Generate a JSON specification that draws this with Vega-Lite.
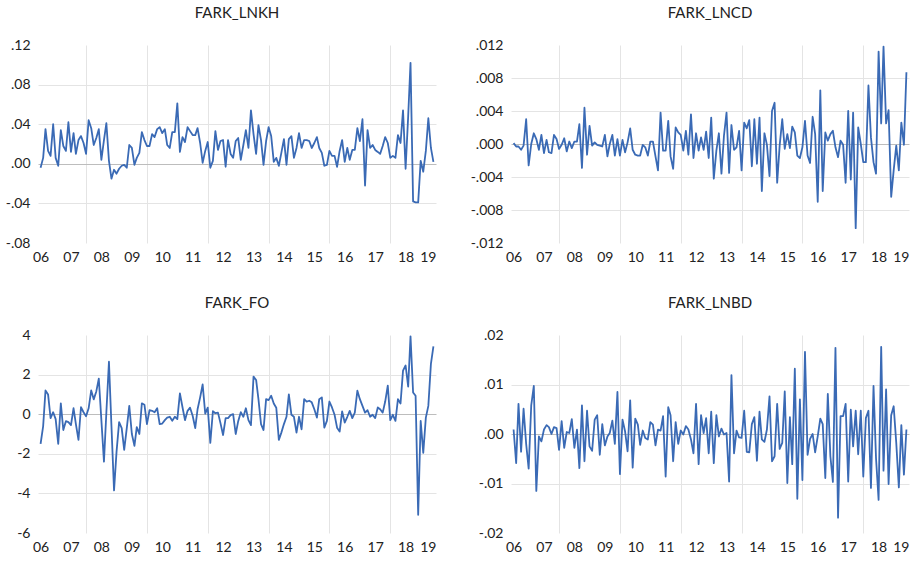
{
  "$schema": "https://vega.github.io/schema/vega-lite/v6.json",
  "padding": {"left": 5, "top": 6, "right": 5, "bottom": 5},
  "background": "white",
  "config": {
    "view": {"stroke": null},
    "axis": {"ticks": false, "domain": false, "title": null, "labelFont": "Lato", "labelFontSize": 14, "labelColor": "#222222", "gridColor": "#E4E4E4", "gridWidth": 1},
    "title": {"font": "Lato", "fontSize": 15, "fontWeight": "normal", "color": "#222222", "frame": "group", "anchor": "middle", "baseline": "alphabetic", "offset": 17},
    "line": {"color": "#3A6AB5", "strokeWidth": 1.8, "strokeJoin": "round"}
  },
  "data": {"values": [
    {"d":"2006-01-01","kh":-0.004,"cd":0.0001,"fo":-1.5,"bd":0.0009},
    {"d":"2006-02-01","kh":0.006,"cd":-0.0003,"fo":-0.6,"bd":-0.0059},
    {"d":"2006-03-01","kh":0.035,"cd":-0.0003,"fo":1.2,"bd":0.0061},
    {"d":"2006-04-01","kh":0.013,"cd":-0.0007,"fo":1.0,"bd":-0.0036},
    {"d":"2006-05-01","kh":0.008,"cd":-0.0002,"fo":-0.2,"bd":0.0051},
    {"d":"2006-06-01","kh":0.040,"cd":0.003,"fo":0.1,"bd":-0.002},
    {"d":"2006-07-01","kh":0.006,"cd":-0.0026,"fo":-0.25,"bd":-0.007},
    {"d":"2006-08-01","kh":-0.002,"cd":0.0,"fo":-1.5,"bd":0.0058},
    {"d":"2006-09-01","kh":0.034,"cd":0.0013,"fo":0.55,"bd":0.0097},
    {"d":"2006-10-01","kh":0.018,"cd":0.0006,"fo":-0.8,"bd":-0.0115},
    {"d":"2006-11-01","kh":0.013,"cd":-0.0007,"fo":-0.35,"bd":-0.0005},
    {"d":"2006-12-01","kh":0.042,"cd":0.0011,"fo":-0.4,"bd":-0.0015},
    {"d":"2007-01-01","kh":0.012,"cd":-0.0011,"fo":-0.55,"bd":0.0009},
    {"d":"2007-02-01","kh":0.031,"cd":0.0005,"fo":0.3,"bd":0.0018},
    {"d":"2007-03-01","kh":0.010,"cd":-0.001,"fo":-0.5,"bd":0.0014},
    {"d":"2007-04-01","kh":0.024,"cd":-0.0011,"fo":-1.3,"bd":0.0},
    {"d":"2007-05-01","kh":0.028,"cd":0.0011,"fo":0.35,"bd":0.0014},
    {"d":"2007-06-01","kh":0.021,"cd":0.0006,"fo":0.1,"bd":0.0012},
    {"d":"2007-07-01","kh":0.010,"cd":-0.0006,"fo":-0.1,"bd":-0.0032},
    {"d":"2007-08-01","kh":0.044,"cd":-0.0001,"fo":0.3,"bd":0.0026},
    {"d":"2007-09-01","kh":0.036,"cd":0.0007,"fo":1.2,"bd":-0.0028},
    {"d":"2007-10-01","kh":0.019,"cd":-0.0009,"fo":0.75,"bd":0.0004},
    {"d":"2007-11-01","kh":0.026,"cd":0.0003,"fo":1.15,"bd":0.0002},
    {"d":"2007-12-01","kh":0.035,"cd":-0.0005,"fo":1.8,"bd":0.003},
    {"d":"2008-01-01","kh":0.004,"cd":0.0003,"fo":-0.3,"bd":-0.0028},
    {"d":"2008-02-01","kh":0.024,"cd":0.0003,"fo":-2.4,"bd":0.0009},
    {"d":"2008-03-01","kh":0.041,"cd":0.0024,"fo":0.1,"bd":-0.0069},
    {"d":"2008-04-01","kh":0.003,"cd":-0.0029,"fo":2.65,"bd":0.0058},
    {"d":"2008-05-01","kh":-0.015,"cd":0.0044,"fo":-0.6,"bd":-0.0055},
    {"d":"2008-06-01","kh":-0.006,"cd":-0.0013,"fo":-3.85,"bd":0.0047},
    {"d":"2008-07-01","kh":-0.010,"cd":0.0022,"fo":-1.9,"bd":-0.0025},
    {"d":"2008-08-01","kh":-0.005,"cd":-0.0002,"fo":-0.4,"bd":-0.0034},
    {"d":"2008-09-01","kh":-0.002,"cd":0.0002,"fo":-0.7,"bd":0.0029},
    {"d":"2008-10-01","kh":-0.001,"cd":-0.0001,"fo":-1.8,"bd":0.0038},
    {"d":"2008-11-01","kh":-0.004,"cd":-0.0002,"fo":-0.7,"bd":-0.0042},
    {"d":"2008-12-01","kh":0.019,"cd":-0.0003,"fo":0.42,"bd":0.002},
    {"d":"2009-01-01","kh":0.016,"cd":0.0011,"fo":-1.0,"bd":-0.0023},
    {"d":"2009-02-01","kh":-0.001,"cd":-0.0015,"fo":-1.6,"bd":-0.0005},
    {"d":"2009-03-01","kh":0.006,"cd":0.0,"fo":-0.65,"bd":0.0002},
    {"d":"2009-04-01","kh":0.011,"cd":0.0011,"fo":-1.0,"bd":0.0027},
    {"d":"2009-05-01","kh":0.032,"cd":-0.0014,"fo":0.55,"bd":-0.002},
    {"d":"2009-06-01","kh":0.024,"cd":0.0006,"fo":0.48,"bd":0.0085},
    {"d":"2009-07-01","kh":0.018,"cd":-0.0014,"fo":-0.5,"bd":-0.0081},
    {"d":"2009-08-01","kh":0.018,"cd":0.0005,"fo":0.2,"bd":0.0029},
    {"d":"2009-09-01","kh":0.030,"cd":-0.001,"fo":0.17,"bd":0.0005},
    {"d":"2009-10-01","kh":0.027,"cd":0.0002,"fo":0.1,"bd":-0.0035},
    {"d":"2009-11-01","kh":0.035,"cd":0.0019,"fo":0.3,"bd":0.0068},
    {"d":"2009-12-01","kh":0.037,"cd":-0.0007,"fo":-0.5,"bd":-0.0068},
    {"d":"2010-01-01","kh":0.031,"cd":-0.0013,"fo":-0.47,"bd":0.0031},
    {"d":"2010-02-01","kh":0.035,"cd":-0.0014,"fo":-0.3,"bd":0.0019},
    {"d":"2010-03-01","kh":0.019,"cd":-0.0014,"fo":-0.17,"bd":-0.0022},
    {"d":"2010-04-01","kh":0.016,"cd":-0.0001,"fo":-0.13,"bd":0.0007},
    {"d":"2010-05-01","kh":0.032,"cd":-0.0004,"fo":-0.33,"bd":-0.0008},
    {"d":"2010-06-01","kh":0.032,"cd":-0.0014,"fo":-0.13,"bd":-0.0011},
    {"d":"2010-07-01","kh":0.061,"cd":0.0003,"fo":-0.25,"bd":0.0024},
    {"d":"2010-08-01","kh":0.012,"cd":0.0003,"fo":1.05,"bd":0.0019},
    {"d":"2010-09-01","kh":0.027,"cd":-0.0015,"fo":0.35,"bd":-0.0023},
    {"d":"2010-10-01","kh":0.022,"cd":-0.0032,"fo":-0.3,"bd":0.0009},
    {"d":"2010-11-01","kh":0.037,"cd":0.0038,"fo":0.17,"bd":0.0007},
    {"d":"2010-12-01","kh":0.033,"cd":-0.0008,"fo":0.33,"bd":0.0036},
    {"d":"2011-01-01","kh":0.029,"cd":-0.0008,"fo":-0.08,"bd":-0.0086},
    {"d":"2011-02-01","kh":0.029,"cd":0.0028,"fo":-0.7,"bd":0.0054},
    {"d":"2011-03-01","kh":0.036,"cd":-0.0015,"fo":0.25,"bd":0.0038},
    {"d":"2011-04-01","kh":0.021,"cd":-0.003,"fo":0.85,"bd":-0.0055},
    {"d":"2011-05-01","kh":0.001,"cd":0.002,"fo":1.5,"bd":0.0024},
    {"d":"2011-06-01","kh":0.013,"cd":0.0014,"fo":0.03,"bd":-0.002},
    {"d":"2011-07-01","kh":0.022,"cd":0.0011,"fo":0.33,"bd":0.0007},
    {"d":"2011-08-01","kh":-0.004,"cd":-0.0008,"fo":-1.45,"bd":-0.0001},
    {"d":"2011-09-01","kh":0.003,"cd":0.0016,"fo":0.15,"bd":0.0016},
    {"d":"2011-10-01","kh":0.033,"cd":-0.0013,"fo":0.05,"bd":0.0009},
    {"d":"2011-11-01","kh":0.014,"cd":0.0036,"fo":0.08,"bd":-0.0011},
    {"d":"2011-12-01","kh":0.023,"cd":-0.0017,"fo":-0.45,"bd":-0.0039},
    {"d":"2012-01-01","kh":0.024,"cd":0.0013,"fo":-1.05,"bd":0.0061},
    {"d":"2012-02-01","kh":-0.003,"cd":-0.0008,"fo":-0.2,"bd":-0.0061},
    {"d":"2012-03-01","kh":0.024,"cd":0.0008,"fo":-0.2,"bd":0.0038},
    {"d":"2012-04-01","kh":0.010,"cd":-0.0007,"fo":-0.05,"bd":0.0002},
    {"d":"2012-05-01","kh":0.006,"cd":0.0015,"fo":0.0,"bd":0.0032},
    {"d":"2012-06-01","kh":0.023,"cd":-0.0017,"fo":-1.0,"bd":-0.0039},
    {"d":"2012-07-01","kh":0.026,"cd":0.0032,"fo":-0.35,"bd":0.0045},
    {"d":"2012-08-01","kh":0.004,"cd":-0.0042,"fo":0.1,"bd":-0.0059},
    {"d":"2012-09-01","kh":0.019,"cd":-0.0008,"fo":-0.13,"bd":0.0038},
    {"d":"2012-10-01","kh":0.034,"cd":0.0013,"fo":0.3,"bd":-0.0005},
    {"d":"2012-11-01","kh":0.016,"cd":-0.0036,"fo":-0.3,"bd":0.0011},
    {"d":"2012-12-01","kh":0.054,"cd":0.001,"fo":-0.55,"bd":-0.0001},
    {"d":"2013-01-01","kh":0.030,"cd":0.0038,"fo":1.9,"bd":0.0002},
    {"d":"2013-02-01","kh":0.010,"cd":-0.0035,"fo":1.73,"bd":-0.0096},
    {"d":"2013-03-01","kh":0.039,"cd":0.0023,"fo":0.76,"bd":0.0119},
    {"d":"2013-04-01","kh":0.024,"cd":-0.0007,"fo":-0.5,"bd":-0.0039},
    {"d":"2013-05-01","kh":-0.001,"cd":-0.0004,"fo":-0.8,"bd":0.0007},
    {"d":"2013-06-01","kh":0.023,"cd":0.0016,"fo":0.76,"bd":-0.0007},
    {"d":"2013-07-01","kh":0.037,"cd":-0.0032,"fo":0.71,"bd":-0.0008},
    {"d":"2013-08-01","kh":0.028,"cd":0.0026,"fo":0.93,"bd":0.0047},
    {"d":"2013-09-01","kh":0.002,"cd":0.0019,"fo":0.54,"bd":-0.0036},
    {"d":"2013-10-01","kh":0.006,"cd":0.0029,"fo":0.33,"bd":-0.0037},
    {"d":"2013-11-01","kh":-0.002,"cd":-0.0027,"fo":-1.3,"bd":0.002},
    {"d":"2013-12-01","kh":0.011,"cd":0.003,"fo":-0.93,"bd":0.0034},
    {"d":"2014-01-01","kh":0.025,"cd":-0.0024,"fo":-0.5,"bd":-0.0054},
    {"d":"2014-02-01","kh":-0.001,"cd":0.0032,"fo":-0.13,"bd":0.0045},
    {"d":"2014-03-01","kh":0.025,"cd":-0.0057,"fo":1.0,"bd":-0.0011},
    {"d":"2014-04-01","kh":0.028,"cd":0.0013,"fo":-0.03,"bd":-0.0016},
    {"d":"2014-05-01","kh":0.006,"cd":-0.0001,"fo":-0.13,"bd":0.0009},
    {"d":"2014-06-01","kh":0.016,"cd":-0.0039,"fo":-0.93,"bd":0.0076},
    {"d":"2014-07-01","kh":0.031,"cd":0.004,"fo":-0.13,"bd":-0.0055},
    {"d":"2014-08-01","kh":0.016,"cd":0.005,"fo":-0.76,"bd":-0.0045},
    {"d":"2014-09-01","kh":0.024,"cd":-0.0047,"fo":0.76,"bd":0.0061},
    {"d":"2014-10-01","kh":0.024,"cd":-0.0002,"fo":0.64,"bd":-0.003},
    {"d":"2014-11-01","kh":0.023,"cd":0.003,"fo":0.68,"bd":-0.0018},
    {"d":"2014-12-01","kh":0.016,"cd":-0.0006,"fo":0.6,"bd":0.0086},
    {"d":"2015-01-01","kh":0.021,"cd":0.0012,"fo":0.25,"bd":-0.0099},
    {"d":"2015-02-01","kh":0.027,"cd":-0.0005,"fo":-0.17,"bd":0.0034},
    {"d":"2015-03-01","kh":0.016,"cd":0.0021,"fo":0.76,"bd":-0.0061},
    {"d":"2015-04-01","kh":0.011,"cd":0.0014,"fo":0.85,"bd":0.0132},
    {"d":"2015-05-01","kh":-0.002,"cd":-0.0014,"fo":-0.68,"bd":-0.0131},
    {"d":"2015-06-01","kh":-0.001,"cd":-0.0017,"fo":-0.34,"bd":0.007},
    {"d":"2015-07-01","kh":0.013,"cd":-0.0004,"fo":0.64,"bd":-0.0093},
    {"d":"2015-08-01","kh":0.008,"cd":0.0028,"fo":0.34,"bd":0.0166},
    {"d":"2015-09-01","kh":0.008,"cd":-0.0014,"fo":-0.03,"bd":-0.0042},
    {"d":"2015-10-01","kh":-0.003,"cd":-0.0023,"fo":-0.68,"bd":-0.001},
    {"d":"2015-11-01","kh":0.013,"cd":0.0033,"fo":-0.88,"bd":0.0},
    {"d":"2015-12-01","kh":0.024,"cd":0.0012,"fo":0.14,"bd":-0.0037},
    {"d":"2016-01-01","kh":0.002,"cd":-0.007,"fo":-0.42,"bd":-0.0005},
    {"d":"2016-02-01","kh":0.016,"cd":0.0065,"fo":-0.13,"bd":0.0031},
    {"d":"2016-03-01","kh":0.004,"cd":-0.0057,"fo":0.17,"bd":0.002},
    {"d":"2016-04-01","kh":0.014,"cd":0.0014,"fo":-0.2,"bd":-0.0089},
    {"d":"2016-05-01","kh":0.014,"cd":0.0004,"fo":0.08,"bd":0.0081},
    {"d":"2016-06-01","kh":0.036,"cd":0.0012,"fo":1.19,"bd":-0.0045},
    {"d":"2016-07-01","kh":0.023,"cd":0.0016,"fo":0.76,"bd":-0.0097},
    {"d":"2016-08-01","kh":0.045,"cd":-0.0004,"fo":0.42,"bd":0.0174},
    {"d":"2016-09-01","kh":-0.022,"cd":-0.0016,"fo":0.08,"bd":-0.0169},
    {"d":"2016-10-01","kh":0.034,"cd":0.0004,"fo":0.2,"bd":0.0036},
    {"d":"2016-11-01","kh":0.016,"cd":-0.0001,"fo":-0.13,"bd":0.0036},
    {"d":"2016-12-01","kh":0.019,"cd":-0.0047,"fo":-0.03,"bd":0.0061},
    {"d":"2017-01-01","kh":0.014,"cd":0.004,"fo":-0.2,"bd":-0.0096},
    {"d":"2017-02-01","kh":0.012,"cd":-0.0043,"fo":0.34,"bd":0.0049},
    {"d":"2017-03-01","kh":0.010,"cd":0.0038,"fo":0.25,"bd":-0.0025},
    {"d":"2017-04-01","kh":0.018,"cd":-0.0102,"fo":0.08,"bd":0.0047},
    {"d":"2017-05-01","kh":0.027,"cd":0.002,"fo":0.64,"bd":-0.0041},
    {"d":"2017-06-01","kh":0.021,"cd":0.0,"fo":1.44,"bd":0.0047},
    {"d":"2017-07-01","kh":0.006,"cd":-0.0022,"fo":-0.3,"bd":-0.0086},
    {"d":"2017-08-01","kh":0.008,"cd":-0.0022,"fo":-0.03,"bd":0.0032},
    {"d":"2017-09-01","kh":0.006,"cd":0.0071,"fo":-0.34,"bd":0.0047},
    {"d":"2017-10-01","kh":0.029,"cd":0.0008,"fo":0.76,"bd":-0.0109},
    {"d":"2017-11-01","kh":0.021,"cd":-0.0022,"fo":0.54,"bd":0.0097},
    {"d":"2017-12-01","kh":0.054,"cd":-0.0036,"fo":2.2,"bd":-0.0049},
    {"d":"2018-01-01","kh":-0.005,"cd":0.0112,"fo":2.46,"bd":-0.0133},
    {"d":"2018-02-01","kh":0.048,"cd":0.0025,"fo":1.39,"bd":0.0176},
    {"d":"2018-03-01","kh":0.102,"cd":0.0118,"fo":3.93,"bd":-0.0074},
    {"d":"2018-04-01","kh":-0.038,"cd":0.0025,"fo":1.1,"bd":0.009},
    {"d":"2018-05-01","kh":-0.039,"cd":0.0041,"fo":0.93,"bd":-0.0101},
    {"d":"2018-06-01","kh":-0.039,"cd":-0.0064,"fo":-5.08,"bd":0.0038},
    {"d":"2018-07-01","kh":0.003,"cd":-0.0032,"fo":-0.34,"bd":0.0056},
    {"d":"2018-08-01","kh":-0.008,"cd":-0.0002,"fo":-1.95,"bd":-0.0018},
    {"d":"2018-09-01","kh":0.013,"cd":-0.0032,"fo":-0.17,"bd":-0.0108},
    {"d":"2018-10-01","kh":0.046,"cd":0.0026,"fo":0.42,"bd":0.0018},
    {"d":"2018-11-01","kh":0.016,"cd":-0.0001,"fo":2.54,"bd":-0.0082},
    {"d":"2018-12-01","kh":0.002,"cd":0.0087,"fo":3.42,"bd":0.0009}
  ]},
  "columns": 2,
  "spacing": {"row": 92, "column": 75},
  "bounds": "flush",
  "concat": [
    {
      "title": "FARK_LNKH",
      "width": 398, "height": 198,
      "mark": {"type": "line"},
      "encoding": {
        "x": {"field": "d", "type": "temporal",
          "scale": {"type": "utc", "nice": false, "domain": [{"year": 2005, "month": 12, "date": 1, "utc": true}, {"year": 2019, "month": 1, "date": 1, "utc": true}]},
          "axis": {"values": [{"year":2006,"month":1,"date":1,"utc":true},{"year":2007,"month":1,"date":1,"utc":true},{"year":2008,"month":1,"date":1,"utc":true},{"year":2009,"month":1,"date":1,"utc":true},{"year":2010,"month":1,"date":1,"utc":true},{"year":2011,"month":1,"date":1,"utc":true},{"year":2012,"month":1,"date":1,"utc":true},{"year":2013,"month":1,"date":1,"utc":true},{"year":2014,"month":1,"date":1,"utc":true},{"year":2015,"month":1,"date":1,"utc":true},{"year":2016,"month":1,"date":1,"utc":true},{"year":2017,"month":1,"date":1,"utc":true},{"year":2018,"month":1,"date":1,"utc":true},{"year":2019,"month":1,"date":1,"utc":true},{"year":2007,"month":7,"date":1,"utc":true},{"year":2009,"month":7,"date":1,"utc":true},{"year":2011,"month":7,"date":1,"utc":true},{"year":2013,"month":7,"date":1,"utc":true},{"year":2015,"month":7,"date":1,"utc":true},{"year":2017,"month":7,"date":1,"utc":true}],
            "labelExpr": "utcmonth(datum.value) == 0 ? utcFormat(datum.value, '%y') : ''",
            "grid": true,
            "gridOpacity": {"condition": {"test": "utcmonth(datum.value) == 6", "value": 1}, "value": 0},
            "labelFlush": true, "labelPadding": 7, "labelOverlap": false}},
        "y": {"field": "kh", "type": "quantitative",
          "scale": {"domain": [-0.08, 0.12], "nice": false, "zero": false},
          "axis": {"values": [-0.08, -0.04, 0, 0.04, 0.08, 0.12],
            "labelExpr": "(datum.value < 0 ? '-' : '') + replace(format(abs(datum.value), '.2f'), '0.', '.')",
            "labelPadding": 8,
            "gridOpacity": {"condition": {"test": "datum.value == -0.08 || datum.value == 0.12", "value": 0}, "value": 1},
            "gridColor": {"condition": {"test": "datum.value == 0", "value": "#BDBDBD"}, "value": "#E4E4E4"}}}
      }
    },
    {
      "title": "FARK_LNCD",
      "width": 398, "height": 198,
      "mark": {"type": "line"},
      "encoding": {
        "x": {"field": "d", "type": "temporal",
          "scale": {"type": "utc", "nice": false, "domain": [{"year": 2005, "month": 12, "date": 1, "utc": true}, {"year": 2019, "month": 1, "date": 1, "utc": true}]},
          "axis": {"values": [{"year":2006,"month":1,"date":1,"utc":true},{"year":2007,"month":1,"date":1,"utc":true},{"year":2008,"month":1,"date":1,"utc":true},{"year":2009,"month":1,"date":1,"utc":true},{"year":2010,"month":1,"date":1,"utc":true},{"year":2011,"month":1,"date":1,"utc":true},{"year":2012,"month":1,"date":1,"utc":true},{"year":2013,"month":1,"date":1,"utc":true},{"year":2014,"month":1,"date":1,"utc":true},{"year":2015,"month":1,"date":1,"utc":true},{"year":2016,"month":1,"date":1,"utc":true},{"year":2017,"month":1,"date":1,"utc":true},{"year":2018,"month":1,"date":1,"utc":true},{"year":2019,"month":1,"date":1,"utc":true},{"year":2007,"month":7,"date":1,"utc":true},{"year":2009,"month":7,"date":1,"utc":true},{"year":2011,"month":7,"date":1,"utc":true},{"year":2013,"month":7,"date":1,"utc":true},{"year":2015,"month":7,"date":1,"utc":true},{"year":2017,"month":7,"date":1,"utc":true}],
            "labelExpr": "utcmonth(datum.value) == 0 ? utcFormat(datum.value, '%y') : ''",
            "grid": true,
            "gridOpacity": {"condition": {"test": "utcmonth(datum.value) == 6", "value": 1}, "value": 0},
            "labelFlush": true, "labelPadding": 7, "labelOverlap": false}},
        "y": {"field": "cd", "type": "quantitative",
          "scale": {"domain": [-0.012, 0.012], "nice": false, "zero": false},
          "axis": {"values": [-0.012, -0.008, -0.004, 0, 0.004, 0.008, 0.012],
            "labelExpr": "(datum.value < 0 ? '-' : '') + replace(format(abs(datum.value), '.3f'), '0.', '.')",
            "labelPadding": 8,
            "gridOpacity": {"condition": {"test": "datum.value == -0.012 || datum.value == 0.012", "value": 0}, "value": 1},
            "gridColor": {"condition": {"test": "datum.value == 0", "value": "#BDBDBD"}, "value": "#E4E4E4"}}}
      }
    },
    {
      "title": "FARK_FO",
      "width": 398, "height": 198,
      "mark": {"type": "line"},
      "encoding": {
        "x": {"field": "d", "type": "temporal",
          "scale": {"type": "utc", "nice": false, "domain": [{"year": 2005, "month": 12, "date": 1, "utc": true}, {"year": 2019, "month": 1, "date": 1, "utc": true}]},
          "axis": {"values": [{"year":2006,"month":1,"date":1,"utc":true},{"year":2007,"month":1,"date":1,"utc":true},{"year":2008,"month":1,"date":1,"utc":true},{"year":2009,"month":1,"date":1,"utc":true},{"year":2010,"month":1,"date":1,"utc":true},{"year":2011,"month":1,"date":1,"utc":true},{"year":2012,"month":1,"date":1,"utc":true},{"year":2013,"month":1,"date":1,"utc":true},{"year":2014,"month":1,"date":1,"utc":true},{"year":2015,"month":1,"date":1,"utc":true},{"year":2016,"month":1,"date":1,"utc":true},{"year":2017,"month":1,"date":1,"utc":true},{"year":2018,"month":1,"date":1,"utc":true},{"year":2019,"month":1,"date":1,"utc":true},{"year":2007,"month":7,"date":1,"utc":true},{"year":2009,"month":7,"date":1,"utc":true},{"year":2011,"month":7,"date":1,"utc":true},{"year":2013,"month":7,"date":1,"utc":true},{"year":2015,"month":7,"date":1,"utc":true},{"year":2017,"month":7,"date":1,"utc":true}],
            "labelExpr": "utcmonth(datum.value) == 0 ? utcFormat(datum.value, '%y') : ''",
            "grid": true,
            "gridOpacity": {"condition": {"test": "utcmonth(datum.value) == 6", "value": 1}, "value": 0},
            "labelFlush": true, "labelPadding": 7, "labelOverlap": false}},
        "y": {"field": "fo", "type": "quantitative",
          "scale": {"domain": [-6, 4], "nice": false, "zero": false},
          "axis": {"values": [-6, -4, -2, 0, 2, 4],
            "labelExpr": "(datum.value < 0 ? '-' : '') + format(abs(datum.value), 'd')",
            "labelPadding": 8,
            "gridOpacity": {"condition": {"test": "datum.value == -6 || datum.value == 4", "value": 0}, "value": 1},
            "gridColor": {"condition": {"test": "datum.value == 0", "value": "#BDBDBD"}, "value": "#E4E4E4"}}}
      }
    },
    {
      "title": "FARK_LNBD",
      "width": 398, "height": 198,
      "mark": {"type": "line"},
      "encoding": {
        "x": {"field": "d", "type": "temporal",
          "scale": {"type": "utc", "nice": false, "domain": [{"year": 2005, "month": 12, "date": 1, "utc": true}, {"year": 2019, "month": 1, "date": 1, "utc": true}]},
          "axis": {"values": [{"year":2006,"month":1,"date":1,"utc":true},{"year":2007,"month":1,"date":1,"utc":true},{"year":2008,"month":1,"date":1,"utc":true},{"year":2009,"month":1,"date":1,"utc":true},{"year":2010,"month":1,"date":1,"utc":true},{"year":2011,"month":1,"date":1,"utc":true},{"year":2012,"month":1,"date":1,"utc":true},{"year":2013,"month":1,"date":1,"utc":true},{"year":2014,"month":1,"date":1,"utc":true},{"year":2015,"month":1,"date":1,"utc":true},{"year":2016,"month":1,"date":1,"utc":true},{"year":2017,"month":1,"date":1,"utc":true},{"year":2018,"month":1,"date":1,"utc":true},{"year":2019,"month":1,"date":1,"utc":true},{"year":2007,"month":7,"date":1,"utc":true},{"year":2009,"month":7,"date":1,"utc":true},{"year":2011,"month":7,"date":1,"utc":true},{"year":2013,"month":7,"date":1,"utc":true},{"year":2015,"month":7,"date":1,"utc":true},{"year":2017,"month":7,"date":1,"utc":true}],
            "labelExpr": "utcmonth(datum.value) == 0 ? utcFormat(datum.value, '%y') : ''",
            "grid": true,
            "gridOpacity": {"condition": {"test": "utcmonth(datum.value) == 6", "value": 1}, "value": 0},
            "labelFlush": true, "labelPadding": 7, "labelOverlap": false}},
        "y": {"field": "bd", "type": "quantitative",
          "scale": {"domain": [-0.02, 0.02], "nice": false, "zero": false},
          "axis": {"values": [-0.02, -0.01, 0, 0.01, 0.02],
            "labelExpr": "(datum.value < 0 ? '-' : '') + replace(format(abs(datum.value), '.2f'), '0.', '.')",
            "labelPadding": 8,
            "gridOpacity": {"condition": {"test": "datum.value == -0.02 || datum.value == 0.02", "value": 0}, "value": 1},
            "gridColor": {"condition": {"test": "datum.value == 0", "value": "#BDBDBD"}, "value": "#E4E4E4"}}}
      }
    }
  ]
}
